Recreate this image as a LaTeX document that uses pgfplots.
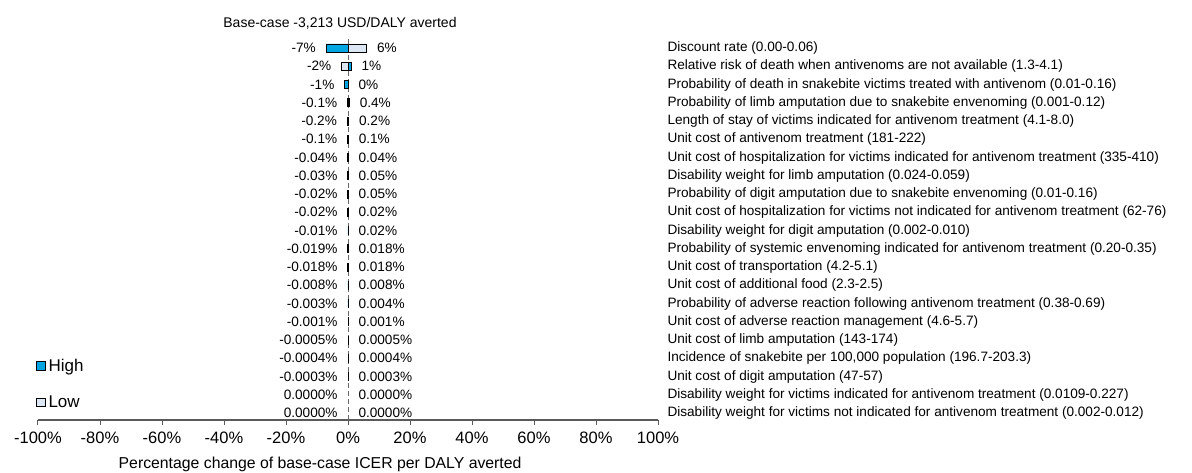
\documentclass[border=0pt]{standalone}
\usepackage{fontspec}
\setmainfont{Liberation Sans}
\usepackage{pgfplots}
\usepackage{pgfplotstable}
\pgfplotsset{compat=1.18}
\definecolor{hiblue}{RGB}{0,166,226}
\definecolor{lowblue}{RGB}{221,231,243}
\definecolor{axgray}{RGB}{90,90,90}
\definecolor{dashgray}{RGB}{105,105,105}
\pgfplotstableread{
y high low lx rx ll rl
21 -7 6 -7 6 -7 6
20 1 -2 -2 1 -2 1
19 -1 0 -1 0 -1 0
18 -0.1 0.4 -0.1 0.4 -0.1 0.4
17 -0.2 0.2 -0.2 0.2 -0.2 0.2
16 -0.1 0.1 -0.1 0.1 -0.1 0.1
15 -0.04 0.04 -0.04 0.04 -0.04 0.04
14 -0.03 0.05 -0.03 0.05 -0.03 0.05
13 -0.02 0.05 -0.02 0.05 -0.02 0.05
12 -0.02 0.02 -0.02 0.02 -0.02 0.02
11 -0.01 0.02 -0.01 0.02 -0.01 0.02
10 -0.019 0.018 -0.019 0.018 -0.019 0.018
9 -0.018 0.018 -0.018 0.018 -0.018 0.018
8 -0.008 0.008 -0.008 0.008 -0.008 0.008
7 -0.003 0.004 -0.003 0.004 -0.003 0.004
6 -0.001 0.001 -0.001 0.001 -0.001 0.001
5 -0.0005 0.0005 -0.0005 0.0005 -0.0005 0.0005
4 -0.0004 0.0004 -0.0004 0.0004 -0.0004 0.0004
3 -0.0003 0.0003 -0.0003 0.0003 -0.0003 0.0003
2 nan nan 0 0 0.0000 0.0000
1 nan nan 0 0 0.0000 0.0000
}\datatable
\pgfplotsset{
  mylegend/.style={legend image code/.code={\draw[##1,draw=black,line width=0.8bp] (0bp,-4.2bp) rectangle (8.4bp,4.2bp);}}
}
\newcommand{\valfont}{\fontsize{13.6bp}{16bp}\selectfont}
\begin{document}
\begin{tikzpicture}
\begin{axis}[
  at={(38bp,53bp)}, anchor=south west,
  scale only axis, width=620bp, height=382bp,
  xmin=-100, xmax=100, ymin=0.6164, ymax=21.548,
  axis x line*=bottom, axis y line*=right,
  x axis line style={axgray, line width=1.8bp},
  y axis line style={draw=none},
  xtick={-100,-80,...,100},
  xticklabels={-100\%,-80\%,-60\%,-40\%,-20\%,0\%,20\%,40\%,60\%,80\%,100\%},
  xtick align=outside, major tick length=5bp,
  xtick style={axgray, line width=1bp},
  xticklabel style={font=\fontsize{16.5bp}{19bp}\selectfont, yshift=-3bp},
  ytick={1,...,21}, ytick style={draw=none},
  yticklabels={
    Disability weight for victims not indicated for antivenom treatment (0.002-0.012),
    Disability weight for victims indicated for antivenom treatment (0.0109-0.227),
    Unit cost of digit amputation (47-57),
    {Incidence of snakebite per 100,000 population (196.7-203.3)},
    Unit cost of limb amputation (143-174),
    Unit cost of adverse reaction management (4.6-5.7),
    Probability of adverse reaction following antivenom treatment (0.38-0.69),
    Unit cost of additional food (2.3-2.5),
    Unit cost of transportation (4.2-5.1),
    Probability of systemic envenoming indicated for antivenom treatment (0.20-0.35),
    Disability weight for digit amputation (0.002-0.010),
    Unit cost of hospitalization for victims not indicated for antivenom treatment (62-76),
    Probability of digit amputation due to snakebite envenoming (0.01-0.16),
    Disability weight for limb amputation (0.024-0.059),
    Unit cost of hospitalization for victims indicated for antivenom treatment (335-410),
    Unit cost of antivenom treatment (181-222),
    Length of stay of victims indicated for antivenom treatment (4.1-8.0),
    Probability of limb amputation due to snakebite envenoming (0.001-0.12),
    Probability of death in snakebite victims treated with antivenom (0.01-0.16),
    Relative risk of death when antivenoms are not available (1.3-4.1),
    Discount rate (0.00-0.06)
  },
  yticklabel style={font=\valfont, anchor=west, xshift=6bp},
  xlabel={Percentage change of base-case ICER per DALY averted},
  xlabel style={font=\fontsize{15.8bp}{19bp}\selectfont, at={(axis description cs:0.455,-0.1166)}, anchor=center},
  clip=false,
  legend style={draw=none, fill=none, at={(axis description cs:-0.003,0.165)}, anchor=north west,
    font=\fontsize{17bp}{20bp}\selectfont, row sep=19bp, inner sep=0pt,
    nodes={inner xsep=3bp}},
  legend cell align=left,
]
\addplot[dashgray, line width=1bp, dash pattern=on 5bp off 3bp, forget plot] coordinates {(0,0.6164) (0,21.548)};
\addplot[xbar, bar width=8bp, bar shift=0pt, fill=hiblue, draw=black, line width=0.9bp, mylegend] table[x=high, y=y] {\datatable};
\addlegendentry{High}
\addplot[xbar, bar width=8bp, bar shift=0pt, fill=lowblue, draw=black, line width=0.9bp, mylegend] table[x=low, y=y] {\datatable};
\addlegendentry{Low}
\addplot[draw=none, forget plot, point meta=explicit symbolic,
  nodes near coords={\pgfplotspointmeta\%},
  nodes near coords style={anchor=east, xshift=-7bp, font=\valfont, text=black}]
  table[x=lx, y=y, meta=ll] {\datatable};
\addplot[draw=none, forget plot, point meta=explicit symbolic,
  nodes near coords={\pgfplotspointmeta\%},
  nodes near coords style={anchor=west, xshift=7bp, font=\valfont, text=black}]
  table[x=rx, y=y, meta=rl] {\datatable};
\end{axis}
\node[font=\fontsize{14bp}{17bp}\selectfont] at (340bp,450bp) {Base-case -3,213 USD/DALY averted};
\pgfresetboundingbox
\path[use as bounding box] (0bp,0bp) rectangle (1192bp,473bp);
\end{tikzpicture}
\end{document}
